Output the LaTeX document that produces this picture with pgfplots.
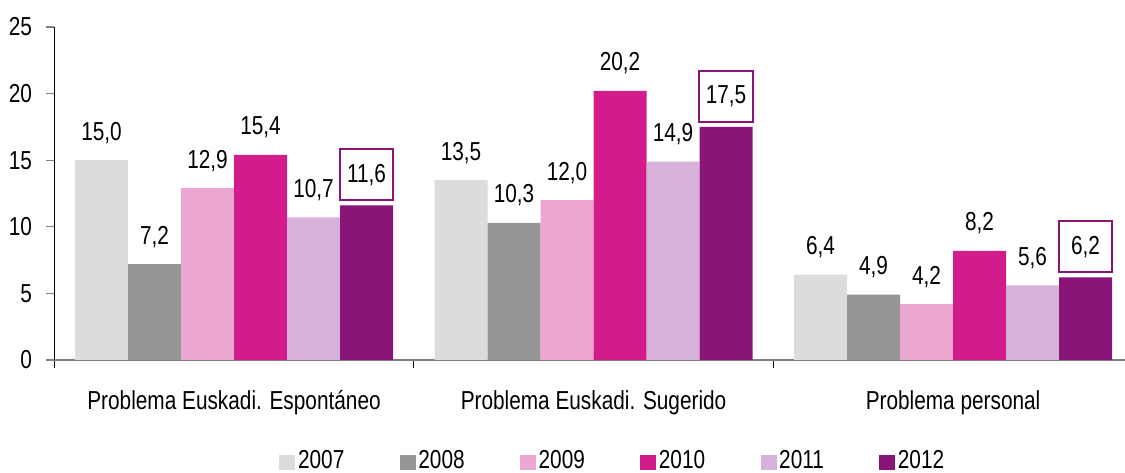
\documentclass[border=0pt]{standalone}
\usepackage{pgfplots}
\pgfplotsset{compat=1.18}
\usepackage{fontspec}
\setmainfont{Liberation Sans}[FakeStretch=0.80]
\definecolor{c2007}{RGB}{220,220,220}
\definecolor{c2008}{RGB}{150,150,150}
\definecolor{c2009}{RGB}{236,166,210}
\definecolor{c2010}{RGB}{210,28,140}
\definecolor{c2011}{RGB}{214,178,218}
\definecolor{c2012}{RGB}{138,21,120}
\definecolor{axgray}{RGB}{128,128,128}
\begin{document}
\fontsize{19.5}{23}\selectfont
\begin{tikzpicture}
\begin{axis}[
  scale only axis, width=803pt, height=249.75pt,
  ybar=0pt, bar width=39.75pt,
  xmin=-0.5, xmax=2.478, ymin=0, ymax=25,
  axis x line*=bottom, axis y line*=left,
  x axis line style={axgray, line width=1.2pt},
  y axis line style={black, line width=0.8pt},
  xtick={0,1,2},
  xticklabels={Problema Euskadi. Espontáneo, Problema Euskadi. Sugerido, Problema personal},
  major x tick style={draw=none},
  minor xtick={-0.5,0.5,1.5},
  minor x tick style={black, line width=0.8pt},
  tick align=outside,
  major tick length=6pt, minor tick length=6pt,
  ytick={0,5,10,15,20,25},
  y tick style={axgray, line width=0.8pt},
  xticklabel style={yshift=-10pt},
  yticklabel style={xshift=-4pt},
  /pgf/number format/assume math mode=true,
  nodes near coords={\pgfmathprintnumber[fixed,fixed zerofill,precision=1,use comma,assume math mode=true]{\pgfplotspointmeta}},
  every node near coord/.append style={anchor=base, yshift=15pt, text=black},
  legend style={draw=none, fill=none, at={(0.522,-0.305)}, anchor=center,
    legend columns=6, /tikz/every even column/.append style={column sep=39.5pt}},
  legend image code/.code={\fill[#1] (0pt,-6pt) rectangle (12pt,5pt);},
]
\addplot[fill=c2007, draw=none] coordinates {(0,15.0) (1,13.5) (2,6.4)};
\addplot[fill=c2008, draw=none] coordinates {(0,7.2) (1,10.3) (2,4.9)};
\addplot[fill=c2009, draw=none] coordinates {(0,12.9) (1,12.0) (2,4.2)};
\addplot[fill=c2010, draw=none] coordinates {(0,15.4) (1,20.2) (2,8.2)};
\addplot[fill=c2011, draw=none] coordinates {(0,10.7) (1,14.9) (2,5.6)};
\addplot[fill=c2012, draw=none, every node near coord/.append style={anchor=south, yshift=-12pt, draw=c2012, line width=1.5pt, fill=white, minimum width=40pt, minimum height=38.5pt, inner sep=0pt}] coordinates {(0,11.6) (1,17.5) (2,6.2)};
\legend{2007,2008,2009,2010,2011,2012}
\end{axis}
\pgfresetboundingbox
\path (current axis.south west) ++(-40.7pt,-84.75pt) rectangle ++(843.75pt,354.75pt);
\end{tikzpicture}
\end{document}
